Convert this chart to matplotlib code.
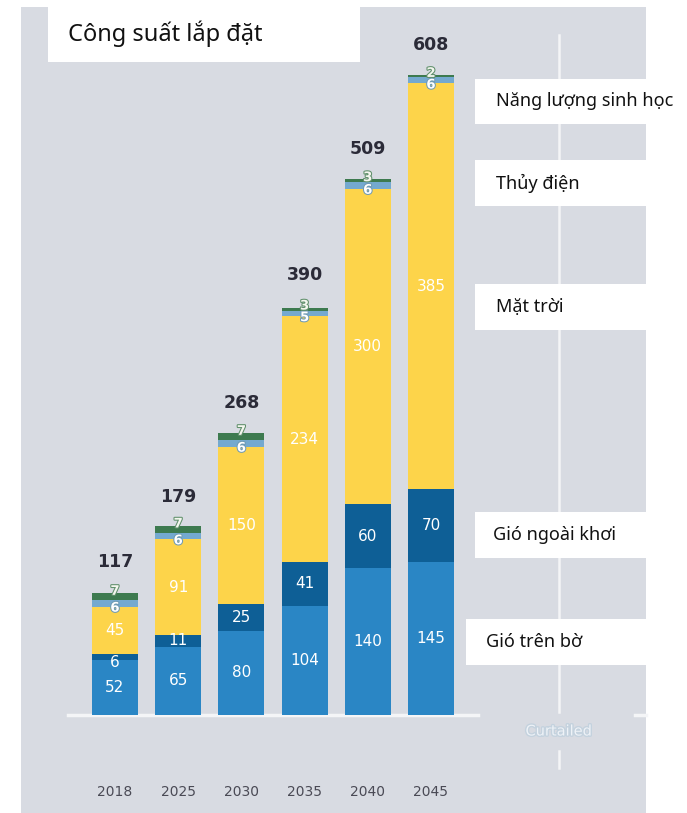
import matplotlib
matplotlib.use("Agg")
import matplotlib.pyplot as plt
import matplotlib.patheffects as pe
from matplotlib.patches import Rectangle
import numpy as np

years = ["2018", "2025", "2030", "2035", "2040", "2045"]
onshore = [52, 65, 80, 104, 140, 145]
offshore = [6, 11, 25, 41, 60, 70]
solar = [45, 91, 150, 234, 300, 385]
hydro = [6, 6, 6, 5, 6, 6]
bio = [7, 7, 7, 3, 3, 2]
totals = [117, 179, 268, 390, 509, 608]

title = "Công suất lắp đặt"
legend_labels = ["Năng lượng sinh học", "Thủy điện", "Mặt trời",
                 "Gió ngoài khơi", "Gió trên bờ"]

c_onshore = "#2a86c5"
c_offshore = "#0e5f96"
c_solar = "#fdd44a"
c_hydro = "#74a9cf"
c_bio = "#3d7a4f"
bg = "#d8dbe2"

W, H = 687, 813
fig = plt.figure(figsize=(W / 100, H / 100), dpi=100)
fig.patch.set_facecolor("white")


def fx(x):
    return x / W


def fy(y):
    return 1 - y / H


def box(x0, y0, x1, y1, color, z=0):
    fig.patches.append(Rectangle((fx(x0), fy(y1)), fx(x1) - fx(x0), fy(y0) - fy(y1),
                                 transform=fig.transFigure, facecolor=color,
                                 edgecolor="none", zorder=z))


# grey panel behind the chart
box(21, 7, 646, 813, bg, z=0)

# axes: baseline at y=715px, 1 unit = 1.0526 px
scale = 640 / 608
ax = fig.add_axes([fx(21), fy(715), fx(646) - fx(21), 715 / H])
ax.set_facecolor("none")
ax.set_xlim(-(115 - 21) / 63.2, (646 - 115) / 63.2)
ax.set_ylim(0, 715 / scale)
ax.axis("off")
ax.set_zorder(2)

x = np.arange(len(years))
w = 0.73
onshore = np.array(onshore)
offshore = np.array(offshore)
solar = np.array(solar)
hydro = np.array(hydro)
bio = np.array(bio)

b1 = onshore
b2 = b1 + offshore
b3 = b2 + solar
b4 = b3 + hydro
ax.bar(x, onshore, w, color=c_onshore, zorder=3)
ax.bar(x, offshore, w, bottom=b1, color=c_offshore, zorder=3)
ax.bar(x, solar, w, bottom=b2, color=c_solar, zorder=3)
ax.bar(x, hydro, w, bottom=b3, color=c_hydro, zorder=3)
ax.bar(x, bio, w, bottom=b4, color=c_bio, zorder=3)

lab = dict(color="white", ha="center", va="center", fontsize=11, zorder=5)
for i in range(len(years)):
    ax.text(x[i], onshore[i] / 2, str(onshore[i]), **lab)
    oy = b1[i] + offshore[i] / 2 if offshore[i] >= 10 else b1[i] - 2.5
    ax.text(x[i], oy, str(offshore[i]), **lab)
    ax.text(x[i], b2[i] + solar[i] / 2, str(solar[i]), **lab)
    # thin segments get small outlined numbers
    ax.text(x[i], b3[i] - 1.5, str(hydro[i]), color="white", ha="center",
            va="center", fontsize=9.5, fontweight="bold", zorder=6,
            path_effects=[pe.withStroke(linewidth=1.5, foreground="#6f9bb5")])
    ax.text(x[i], b4[i] + bio[i] + 1.5, str(bio[i]), color="#f3f6ee", ha="center",
            va="center", fontsize=9.5, fontweight="bold", zorder=6,
            path_effects=[pe.withStroke(linewidth=1.5, foreground="#5f8f6a")])
    ax.annotate(str(totals[i]), (x[i], totals[i] * 1.0), xytext=(0, 21.5),
                textcoords="offset points", ha="center", va="center",
                fontsize=12.5, fontweight="bold", color="#2b2b38", zorder=6)

# year labels under the baseline
for i, yr in enumerate(years):
    fig.text(fx(115 + 63.2 * i), fy(792), yr, ha="center", va="center",
             fontsize=10, color="#4a4a55", zorder=4)

# white guide lines
fig.add_artist(plt.Line2D([fx(68), fx(478)], [fy(715), fy(715)], color="#f4f5f7",
                          lw=2.5, transform=fig.transFigure, zorder=1))
fig.add_artist(plt.Line2D([fx(635), fx(646)], [fy(715), fy(715)], color="#f4f5f7",
                          lw=2.5, transform=fig.transFigure, zorder=1))
fig.add_artist(plt.Line2D([fx(559), fx(559)], [fy(35), fy(712)], color="#f4f5f7",
                          lw=1.8, transform=fig.transFigure, zorder=1))
fig.add_artist(plt.Line2D([fx(559), fx(559)], [fy(751), fy(768)], color="#f4f5f7",
                          lw=1.8, transform=fig.transFigure, zorder=1))
fig.text(fx(559), fy(731), "Curtailed", ha="center", va="center", fontsize=10.5,
         color="#eef2f7", zorder=4,
         path_effects=[pe.withStroke(linewidth=2, foreground="#c4d2de")])

# title box
box(48, 7, 360, 62, "white", z=3)
fig.text(fx(68), fy(34), title, ha="left", va="center", fontsize=17,
         family="Noto Sans", color="#111111", zorder=4)

# legend boxes: (x0, y0, x1, y1, text x)
legend_boxes = [(475, 79, 687, 124, 496), (475, 160, 646, 206, 496),
                (475, 284, 646, 330, 496), (475, 512, 646, 558, 493),
                (466, 619, 646, 665, 486)]
for (x0, y0, x1, y1, tx), name in zip(legend_boxes, legend_labels):
    box(x0, y0, x1, y1, "white", z=3)
    fig.text(fx(tx), fy((y0 + y1) / 2), name, ha="left", va="center",
             fontsize=13, family="Noto Sans", color="#111111", zorder=4)

fig.savefig("out.png", dpi=100)
